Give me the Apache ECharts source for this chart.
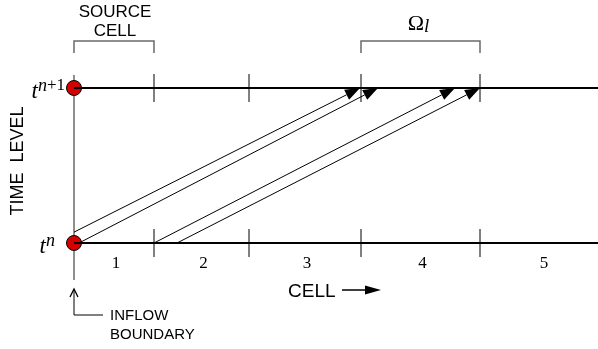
<!DOCTYPE html>
<html>
<head>
<meta charset="utf-8">
<script src="https://cdn.jsdelivr.net/npm/echarts@6/dist/echarts.min.js"></script>
<style>
  html, body { margin: 0; padding: 0; background: #fff; }
  #chart { width: 598px; height: 349px; }
</style>
</head>
<body>
<div id="chart"></div>
<script>
// Cells along x, measured from the inflow boundary
const cellNames = ['1', '2', '3', '4', '5'];
const cellEdges = [0, 80, 175, 287, 406, 530];
// Time levels: t^n at 0, t^(n+1) at 1
const timeLevels = [0, 1];
const timeSupers = ['n', 'n+1'];
// Characteristic paths traced back from t^(n+1): [x, time] start and end
const pathStarts = [[0, 0.07], [5, 0], [80, 0], [103, 0]];
const pathEnds = [[286, 1], [304, 1], [381, 1], [406, 1]];
// Bracketed cell ranges
const sourceCell = [0, 80];
const omegaCell = [287, 406];

const SANS = '"Liberation Sans", Arial, sans-serif';
const SERIF = '"Liberation Serif", "Times New Roman", serif';
const GREY = '#6a6a6a';
// Gap between each time-level label and the boundary marker
const labelGap = [19, 9];

function arrowHead(tip, from, len, half, color) {
  const dx = tip[0] - from[0], dy = tip[1] - from[1];
  const d = Math.sqrt(dx * dx + dy * dy);
  const ux = dx / d, uy = dy / d;
  const bx = tip[0] - ux * len, by = tip[1] - uy * len;
  return {
    base: [bx, by],
    el: {
      type: 'polygon',
      shape: { points: [tip, [bx - uy * half, by + ux * half], [bx + uy * half, by - ux * half]] },
      style: { fill: color }
    }
  };
}

// Inflow boundary line, drawn beneath the time-level markers
function renderBoundary(params, api) {
  const bottom = api.coord([0, 0]), top = api.coord([0, 1]);
  return { type: 'line', shape: { x1: bottom[0], y1: top[1] - 13, x2: bottom[0], y2: bottom[1] + 37 },
    style: { stroke: GREY, lineWidth: 1.5 } };
}

function renderDiagram(params, api) {
  const P = (x, t) => api.coord([x, t]);
  const kids = [];
  const bottom = P(0, 0), top = P(0, 1);
  const x0 = bottom[0];

  // cell boundary ticks on each time level
  timeLevels.forEach(t => {
    cellEdges.slice(1, cellEdges.length - 1).forEach(e => {
      const p = P(e, t);
      kids.push({ type: 'line', shape: { x1: p[0], y1: p[1] - 14, x2: p[0], y2: p[1] + 14 },
        style: { stroke: '#000', lineWidth: 1 } });
    });
  });

  // characteristic paths
  pathStarts.forEach((s, i) => {
    const a = P(s[0], s[1]), b = P(pathEnds[i][0], pathEnds[i][1]);
    const h = arrowHead(b, a, 15, 5.5, '#000');
    kids.push({ type: 'line', shape: { x1: a[0], y1: a[1], x2: h.base[0], y2: h.base[1] },
      style: { stroke: '#000', lineWidth: 1 } });
    kids.push(h.el);
  });

  // cell numbers
  cellNames.forEach((n, i) => {
    const mx = (P(cellEdges[i], 0)[0] + P(cellEdges[i + 1], 0)[0]) / 2;
    kids.push({ type: 'text', x: mx + 2, y: bottom[1] + 21,
      style: { text: n, fill: '#000', fontSize: 17, fontFamily: SERIF, align: 'center', verticalAlign: 'middle' } });
  });

  // time level labels t^n, t^(n+1)
  timeLevels.forEach((t, i) => {
    const p = P(0, t);
    kids.push({ type: 'text', x: p[0] - labelGap[i], y: p[1] + 2,
      style: {
        text: '{t|t}{n|n}' + (timeSupers[i].length > 1 ? '{p|' + timeSupers[i].slice(1) + '}' : ''),
        align: 'right', verticalAlign: 'middle',
        rich: {
          t: { fontSize: 23, fontFamily: SERIF, fontStyle: 'italic', fill: '#000', lineHeight: 26, verticalAlign: 'bottom' },
          n: { fontSize: 18, fontFamily: SERIF, fontStyle: 'italic', fill: '#000', lineHeight: 18, verticalAlign: 'top' },
          p: { fontSize: 17, fontFamily: SERIF, fill: '#000', lineHeight: 18, verticalAlign: 'top' }
        }
      } });
  });

  // brackets above the top level
  function bracket(range) {
    const a = P(range[0], 1)[0], b = P(range[1], 1)[0];
    kids.push({ type: 'polyline',
      shape: { points: [[a, top[1] - 35], [a, top[1] - 47], [b, top[1] - 47], [b, top[1] - 35]] },
      style: { stroke: GREY, lineWidth: 1.5, fill: null } });
    return (a + b) / 2;
  }
  const sc = bracket(sourceCell);
  kids.push({ type: 'text', x: sc + 1, y: 12,
    style: { text: 'SOURCE', fill: '#000', fontSize: 17, fontFamily: SANS, align: 'center', verticalAlign: 'middle' } });
  kids.push({ type: 'text', x: sc + 1, y: 31,
    style: { text: 'CELL', fill: '#000', fontSize: 17, fontFamily: SANS, align: 'center', verticalAlign: 'middle' } });
  const oc = bracket(omegaCell);
  kids.push({ type: 'text', x: oc - 2, y: 24,
    style: {
      text: '{o|Ω}{l|l}', align: 'center', verticalAlign: 'middle',
      rich: {
        o: { fontSize: 22, fontFamily: SERIF, fill: '#000', lineHeight: 22 },
        l: { fontSize: 19, fontFamily: SERIF, fontStyle: 'italic', fill: '#000', lineHeight: 24, verticalAlign: 'bottom' }
      }
    } });

  // axis titles
  kids.push({ type: 'text', x: 18, y: 161, rotation: Math.PI / 2,
    style: { text: 'TIME  LEVEL', fill: '#000', fontSize: 18, fontFamily: SANS, align: 'center', verticalAlign: 'middle' } });
  kids.push({ type: 'text', x: 288, y: 292,
    style: { text: 'CELL', fill: '#000', fontSize: 19, fontFamily: SANS, align: 'left', verticalAlign: 'middle' } });
  kids.push({ type: 'line', shape: { x1: 342, y1: 290, x2: 368, y2: 290 }, style: { stroke: '#000', lineWidth: 1.5 } });
  kids.push({ type: 'polygon', shape: { points: [[381, 290], [365, 285.5], [365, 294.5]] }, style: { fill: '#000' } });

  // inflow boundary callout
  const iy0 = bottom[1] + 46, iy1 = bottom[1] + 72;
  kids.push({ type: 'polyline', shape: { points: [[x0, iy0], [x0, iy1], [x0 + 29, iy1]] },
    style: { stroke: '#000', lineWidth: 1, fill: null } });
  kids.push({ type: 'polyline', shape: { points: [[x0 - 4, iy0 + 8], [x0, iy0], [x0 + 4, iy0 + 8]] },
    style: { stroke: '#000', lineWidth: 1.3, fill: null } });
  kids.push({ type: 'text', x: x0 + 36, y: iy1 + 1,
    style: { text: 'INFLOW', fill: '#000', fontSize: 15, fontFamily: SANS, align: 'left', verticalAlign: 'middle' } });
  kids.push({ type: 'text', x: x0 + 36, y: iy1 + 20,
    style: { text: 'BOUNDARY', fill: '#000', fontSize: 15, fontFamily: SANS, align: 'left', verticalAlign: 'middle' } });

  return { type: 'group', children: kids };
}

const chart = echarts.init(document.getElementById('chart'), null, { renderer: 'canvas' });
chart.setOption({
  animation: false,
  backgroundColor: '#fff',
  grid: { left: 74, right: 0, top: 88, bottom: 106 },
  xAxis: { type: 'value', min: 0, max: 524, show: false },
  yAxis: { type: 'value', min: 0, max: 1, show: false },
  series: [
    {
      type: 'custom', z: 1,
      clip: false,
      data: [0],
      renderItem: renderBoundary
    },
    {
      type: 'scatter', z: 2,
      data: timeLevels.map(t => [0, t]),
      symbolSize: 15,
      itemStyle: { color: '#d40000', borderColor: '#000', borderWidth: 1, opacity: 1 }
    },
    ...timeLevels.map(t => ({
      type: 'line', z: 3, symbol: 'none',
      data: [[0, t], [524, t]],
      lineStyle: { color: '#000', width: 2.2 }
    })),
    {
      type: 'custom', z: 4,
      clip: false,
      data: [0],
      renderItem: renderDiagram
    }
  ]
});
</script>
</body>
</html>
